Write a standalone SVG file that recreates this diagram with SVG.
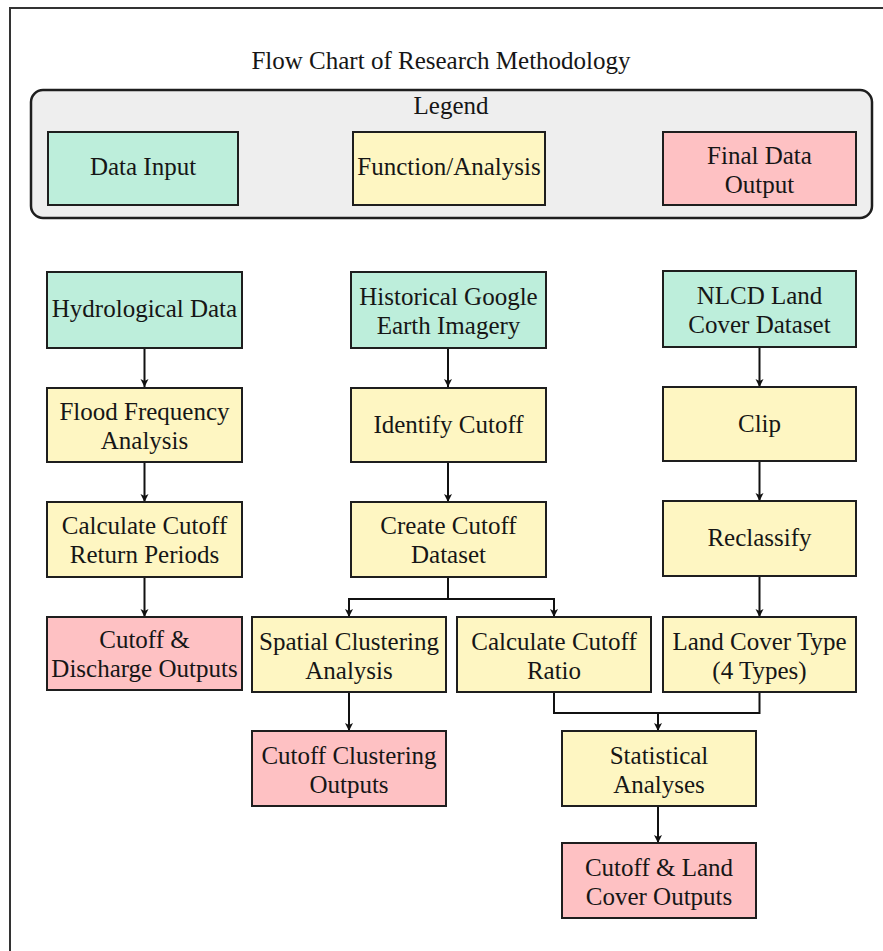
<svg xmlns="http://www.w3.org/2000/svg" width="883" height="951" viewBox="0 0 883 951">
<defs>
<marker id="ah" markerWidth="10" markerHeight="10" refX="9" refY="5" orient="auto" markerUnits="userSpaceOnUse" viewBox="0 0 10 10">
<path d="M1,1 L9,5 L1,9 L3,5 Z" fill="#111"/>
</marker>
<style>
text{font-family:"Liberation Serif","Times New Roman",serif;fill:#161616;font-size:25px;text-anchor:middle}
.t{font-size:25px}
.in{fill:#bdeedb;stroke:#1e1e1e;stroke-width:2}
.fn{fill:#fef6c2;stroke:#1e1e1e;stroke-width:2}
.out{fill:#fec1c3;stroke:#1e1e1e;stroke-width:2}
.c{fill:none;stroke:#111;stroke-width:2}
</style>
</defs>
<rect width="883" height="951" fill="#fff"/>
<rect x="10" y="8" width="900" height="980" fill="none" stroke="#333" stroke-width="2"/>
<text class="t" x="441" y="69">Flow Chart of Research Methodology</text>
<g id="legend">
<rect x="31" y="90" width="841" height="128" rx="12" fill="#eeeeee" stroke="#1e1e1e" stroke-width="2.5"/>
<text x="451" y="114">Legend</text>
<rect class="in" x="48" y="132" width="190" height="73"/>
<text x="143" y="175">Data Input</text>
<rect class="fn" x="353" y="132" width="192" height="73"/>
<text x="449" y="175">Function/Analysis</text>
<rect class="out" x="663" y="132" width="193" height="73"/>
<text x="759.5" y="164">Final Data</text>
<text x="759.5" y="193">Output</text>
</g>
<g id="connectors">
<line class="c" x1="144.5" y1="348" x2="144.5" y2="387" marker-end="url(#ah)"/>
<line class="c" x1="144.5" y1="462" x2="144.5" y2="502" marker-end="url(#ah)"/>
<line class="c" x1="144.5" y1="577" x2="144.5" y2="617" marker-end="url(#ah)"/>
<line class="c" x1="448" y1="348" x2="448" y2="387" marker-end="url(#ah)"/>
<line class="c" x1="448" y1="462" x2="448" y2="502" marker-end="url(#ah)"/>
<polyline class="c" points="448,577 448,599 349,599 349,617" marker-end="url(#ah)"/>
<polyline class="c" points="448,599 554,599 554,617" marker-end="url(#ah)"/>
<line class="c" x1="759.5" y1="347" x2="759.5" y2="387" marker-end="url(#ah)"/>
<line class="c" x1="759.5" y1="461" x2="759.5" y2="501" marker-end="url(#ah)"/>
<line class="c" x1="759.5" y1="576" x2="759.5" y2="617" marker-end="url(#ah)"/>
<line class="c" x1="349" y1="692" x2="349" y2="731" marker-end="url(#ah)"/>
<polyline class="c" points="554,692 554,713 759.5,713 759.5,692"/>
<line class="c" x1="658" y1="713" x2="658" y2="731" marker-end="url(#ah)"/>
<line class="c" x1="658" y1="806" x2="658" y2="843" marker-end="url(#ah)"/>
</g>
<g id="hydro"><rect class="in" x="47" y="272" width="195" height="76"/><text x="144.5" y="317">Hydrological Data</text></g>
<g id="google"><rect class="in" x="351" y="272" width="195" height="76"/><text x="448.5" y="305">Historical Google</text><text x="448.5" y="334">Earth Imagery</text></g>
<g id="nlcd"><rect class="in" x="663" y="271" width="193" height="76"/><text x="759.5" y="304">NLCD Land</text><text x="759.5" y="333">Cover Dataset</text></g>
<g id="flood"><rect class="fn" x="47" y="388" width="195" height="74"/><text x="144.5" y="420">Flood Frequency</text><text x="144.5" y="449">Analysis</text></g>
<g id="identify"><rect class="fn" x="351" y="388" width="195" height="74"/><text x="448.5" y="433">Identify Cutoff</text></g>
<g id="clip"><rect class="fn" x="663" y="387" width="193" height="74"/><text x="759.5" y="432">Clip</text></g>
<g id="returnp"><rect class="fn" x="47" y="502" width="195" height="75"/><text x="144.5" y="534">Calculate Cutoff</text><text x="144.5" y="563">Return Periods</text></g>
<g id="createds"><rect class="fn" x="351" y="502" width="195" height="75"/><text x="448.5" y="534">Create Cutoff</text><text x="448.5" y="563">Dataset</text></g>
<g id="reclass"><rect class="fn" x="663" y="501" width="193" height="75"/><text x="759.5" y="546">Reclassify</text></g>
<g id="discharge"><rect class="out" x="47" y="617" width="195" height="73"/><text x="144.5" y="648">Cutoff &amp;</text><text x="144.5" y="677">Discharge Outputs</text></g>
<g id="spatial"><rect class="fn" x="252" y="617" width="194" height="75"/><text x="349" y="650">Spatial Clustering</text><text x="349" y="679">Analysis</text></g>
<g id="ratio"><rect class="fn" x="457" y="617" width="194" height="75"/><text x="554" y="650">Calculate Cutoff</text><text x="554" y="679">Ratio</text></g>
<g id="landcover"><rect class="fn" x="663" y="617" width="193" height="75"/><text x="759.5" y="650">Land Cover Type</text><text x="759.5" y="679">(4 Types)</text></g>
<g id="clusterout"><rect class="out" x="252" y="731" width="194" height="75"/><text x="349" y="764">Cutoff Clustering</text><text x="349" y="793">Outputs</text></g>
<g id="stats"><rect class="fn" x="562" y="731" width="194" height="75"/><text x="659" y="764">Statistical</text><text x="659" y="793">Analyses</text></g>
<g id="landout"><rect class="out" x="562" y="843" width="194" height="75"/><text x="659" y="876">Cutoff &amp; Land</text><text x="659" y="905">Cover Outputs</text></g>
</svg>
